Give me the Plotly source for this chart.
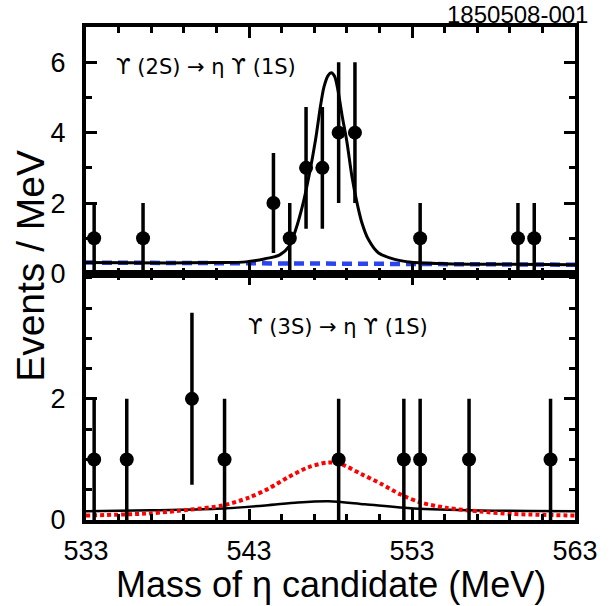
import plotly.graph_objects as go

# ---- data ----
# Top panel: Upsilon(2S) -> eta Upsilon(1S)
top_x = [533.5, 536.5, 544.5, 545.5, 546.5, 547.5, 548.5, 549.5, 553.5, 559.5, 560.5]
top_y = [1, 1, 2, 1, 3, 3, 4, 4, 1, 1, 1]
top_err = [1.0, 1.0, 1.42, 1.0, 1.73, 1.73, 2.0, 2.0, 1.0, 1.0, 1.0]

top_fit_x = [533.0, 538.0, 541.0, 542.8, 544.0, 544.86, 545.47, 545.87, 546.28, 546.68,
             547.09, 547.39, 547.6, 547.85, 548.05, 548.25, 548.44, 548.71, 549.01,
             549.31, 549.62, 549.92, 550.32, 550.93, 551.94, 552.96, 555.0, 559.0, 563.0]
top_fit_y = [0.31, 0.30, 0.31, 0.33, 0.42, 0.52, 0.78, 1.25, 1.92, 2.77,
             3.82, 4.77, 5.30, 5.62, 5.70, 5.60, 5.25, 4.49, 3.73,
             2.77, 2.02, 1.45, 0.97, 0.59, 0.40, 0.32, 0.28, 0.26, 0.25]

top_bkg_x = [533.0, 563.0]
top_bkg_y = [0.31, 0.25]

# Bottom panel: Upsilon(3S) -> eta Upsilon(1S)
bot_x = [533.5, 535.5, 539.5, 541.5, 548.5, 552.5, 553.5, 556.5, 561.5]
bot_y = [1, 1, 2, 1, 1, 1, 1, 1, 1]
bot_err = [1.0, 1.0, 1.42, 1.0, 1.0, 1.0, 1.0, 1.0, 1.0]

bot_fit_x = [533.0, 537.0, 541.0, 544.0, 546.0, 547.9, 550.1, 553.1, 557.2, 563.0]
bot_fit_y = [0.146, 0.160, 0.185, 0.24, 0.29, 0.31, 0.26, 0.19, 0.157, 0.146]

bot_sig_x = [533.0, 536.93, 539.35, 541.38, 543.0, 544.21, 545.43, 546.64, 547.86, 548.67,
             549.88, 551.09, 552.31, 553.52, 555.14, 557.16, 559.19, 563.0]
bot_sig_y = [0.074, 0.11, 0.17, 0.24, 0.37, 0.52, 0.71, 0.87, 0.95, 0.92,
             0.76, 0.60, 0.42, 0.29, 0.20, 0.14, 0.10, 0.074]

x_ticks = [533, 543, 553, 563]
top_yticks = [0, 2, 4, 6]
bot_yticks = [0, 2]

FONT = "Liberation Sans, Arial, Helvetica, sans-serif"
SYMFONT = "DejaVu Sans, Noto Sans, sans-serif"

fig = go.Figure()

# top panel
fig.add_trace(go.Scatter(x=top_bkg_x, y=top_bkg_y, mode="lines", xaxis="x", yaxis="y",
                         line=dict(color="#2a44f0", width=4.5, dash="10px,6px"), showlegend=False))
fig.add_trace(go.Scatter(x=top_fit_x, y=top_fit_y, mode="lines", xaxis="x", yaxis="y",
                         line=dict(color="black", width=3, shape="spline", smoothing=0.8),
                         showlegend=False))
fig.add_trace(go.Scatter(x=top_x, y=top_y, mode="markers", xaxis="x", yaxis="y",
                         marker=dict(color="black", size=14),
                         error_y=dict(type="data", array=top_err, arrayminus=top_err,
                                      color="black", thickness=3.5, width=0),
                         showlegend=False, cliponaxis=False))

# bottom panel
fig.add_trace(go.Scatter(x=bot_fit_x, y=bot_fit_y, mode="lines", xaxis="x2", yaxis="y2",
                         line=dict(color="black", width=2.5, shape="spline", smoothing=0.8),
                         showlegend=False))
fig.add_trace(go.Scatter(x=bot_sig_x, y=bot_sig_y, mode="lines", xaxis="x2", yaxis="y2",
                         line=dict(color="#ff0000", width=4, dash="4px,3px", shape="spline",
                                   smoothing=0.8),
                         showlegend=False))
fig.add_trace(go.Scatter(x=bot_x, y=bot_y, mode="markers", xaxis="x2", yaxis="y2",
                         marker=dict(color="black", size=14),
                         error_y=dict(type="data", array=bot_err, arrayminus=bot_err,
                                      color="black", thickness=3.5, width=0),
                         showlegend=False, cliponaxis=False))

axis_common = dict(showline=True, linewidth=4, linecolor="black", mirror="allticks",
                   ticks="inside", ticklen=11, tickwidth=2.5, tickcolor="black",
                   showgrid=False, zeroline=False,
                   tickfont=dict(family=FONT, size=27, color="black"))

fig.update_layout(
    width=610, height=606,
    margin=dict(l=86, r=24, t=27, b=86),
    paper_bgcolor="white", plot_bgcolor="white",
    xaxis=dict(domain=[0, 1], anchor="y", range=[533, 563], tickvals=x_ticks,
               showticklabels=False,
               minor=dict(ticks="inside", ticklen=6, tickwidth=2.5, tick0=533, dtick=2,
                          tickcolor="black"),
               **axis_common),
    yaxis=dict(domain=[0.5, 1], anchor="x", range=[0, 7], tickvals=top_yticks,
               ticklabelstandoff=11,
               minor=dict(ticks="inside", ticklen=6, tickwidth=2.5, tick0=0, dtick=1,
                          tickcolor="black"),
               **axis_common),
    xaxis2=dict(domain=[0, 1], anchor="y2", range=[533, 563], tickvals=x_ticks,
                matches="x", ticklabelstandoff=4,
                minor=dict(ticks="inside", ticklen=6, tickwidth=2.5, tick0=533, dtick=2,
                           tickcolor="black"),
                **axis_common),
    yaxis2=dict(domain=[0, 0.5], anchor="x2", range=[0, 4.07], tickvals=bot_yticks,
                ticklabelstandoff=11,
                minor=dict(ticks="inside", ticklen=6, tickwidth=2.5, tick0=0, dtick=0.5,
                           tickcolor="black"),
                **axis_common),
    annotations=[
        dict(text="Events / MeV", xref="paper", yref="paper", x=-0.114, y=0.516,
             xanchor="center", yanchor="middle", textangle=-90, showarrow=False,
             font=dict(family=FONT, size=39, color="black")),
        dict(text="Mass of η candidate (MeV)", xref="paper", yref="paper", x=0.5, y=-0.1318,
             xanchor="center", yanchor="middle", showarrow=False,
             font=dict(family=FONT, size=36, color="black")),
        dict(text="1850508-001", xref="paper", yref="paper", x=1.028, y=1.0548,
             xanchor="right", yanchor="top", showarrow=False, borderpad=0,
             font=dict(family=FONT, size=24, color="black")),
        dict(text="ϒ (2S) → η ϒ (1S)", xref="x", yref="y", x=534.7, y=5.86,
             xanchor="left", yanchor="middle", showarrow=False,
             font=dict(family=SYMFONT, size=21, color="black")),
        dict(text="ϒ (3S) → η ϒ (1S)", xref="x2", yref="y2", x=548.45, y=3.19,
             xanchor="center", yanchor="middle", showarrow=False,
             font=dict(family=SYMFONT, size=21, color="black")),
    ],
)

# remove the page's default 8px body margin so the 610x606 figure fills the window
fig.write_html("out.html", config={"displayModeBar": False},
               post_script="document.body.style.margin='0px';")
